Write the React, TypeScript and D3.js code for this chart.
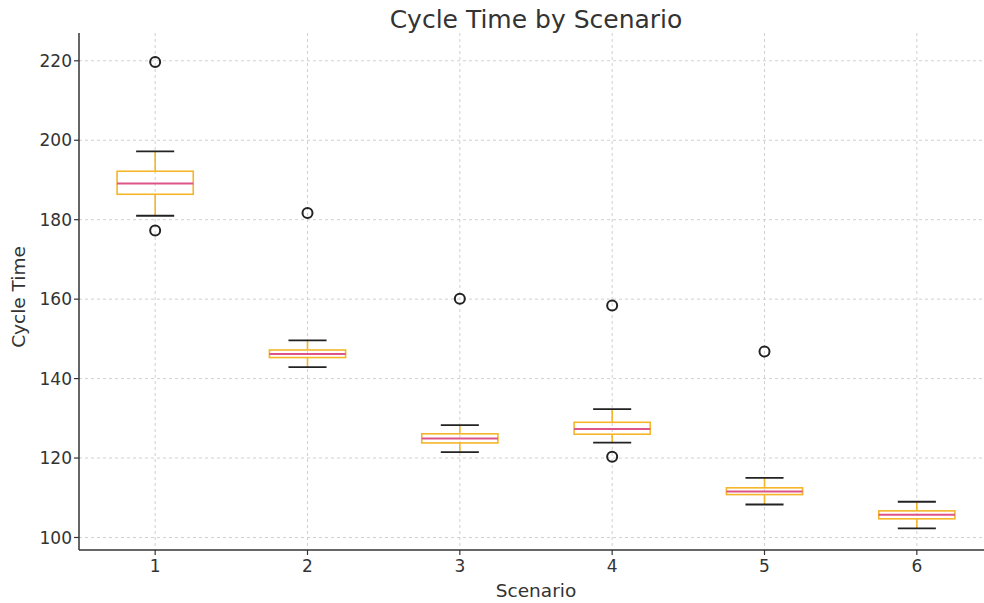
import React from "react";
import * as d3 from "d3";

const scenarios = [1, 2, 3, 4, 5, 6];
const lowerCaps = [181.0, 142.9, 121.5, 123.9, 108.3, 102.3];
const q1s = [186.4, 145.3, 123.8, 126.0, 110.8, 104.7];
const medians = [189.1, 146.2, 124.9, 127.3, 111.6, 105.7];
const q3s = [192.2, 147.2, 126.1, 129.0, 112.5, 106.7];
const upperCaps = [197.2, 149.6, 128.3, 132.3, 115.0, 109.0];
const outliers: number[][] = [[219.7, 177.3], [181.7], [160.1], [158.4, 120.3], [146.8], []];
const yTicks = [100, 120, 140, 160, 180, 200, 220];

const W = 984, H = 603;
const left = 79, right = 993, top = 33, bottom = 550;
const FONT = "DejaVu Sans, sans-serif";

export default function App() {
  const x = d3.scaleLinear().domain([0.5, 6.5]).range([left, right]);
  const y = d3.scaleLinear().domain([96.85, 227.0]).range([bottom, top]);
  const bw = x(1.25) - x(1);
  const cw = x(1.125) - x(1);
  const boxColor = "#f5b52a";
  const medColor = "#dd5588";
  return (
    <svg width={W} height={H} style={{ position: "absolute", left: 0, top: 0, background: "#fff" }}>
      <defs>
        <clipPath id="plot">
          <rect x={left} y={top} width={right - left} height={bottom - top} />
        </clipPath>
      </defs>
      {/* grid */}
      <g stroke="#cccccc" strokeWidth={0.9} strokeDasharray="3,3">
        {yTicks.map((t) => (
          <line key={"gy" + t} x1={left} x2={W} y1={y(t)} y2={y(t)} />
        ))}
        {scenarios.map((s) => (
          <line key={"gx" + s} x1={x(s)} x2={x(s)} y1={top} y2={bottom} />
        ))}
      </g>
      <g clipPath="url(#plot)">
        {scenarios.map((s, i) => (
          <g key={"b" + s}>
            <line x1={x(s)} x2={x(s)} y1={y(q3s[i])} y2={y(upperCaps[i])} stroke={boxColor} strokeWidth={1.6} />
            <line x1={x(s)} x2={x(s)} y1={y(q1s[i])} y2={y(lowerCaps[i])} stroke={boxColor} strokeWidth={1.6} />
            <line x1={x(s) - cw} x2={x(s) + cw} y1={y(upperCaps[i])} y2={y(upperCaps[i])} stroke="#222" strokeWidth={1.8} />
            <line x1={x(s) - cw} x2={x(s) + cw} y1={y(lowerCaps[i])} y2={y(lowerCaps[i])} stroke="#222" strokeWidth={1.8} />
            <rect x={x(s) - bw} y={y(q3s[i])} width={bw * 2} height={y(q1s[i]) - y(q3s[i])} fill="none" stroke={boxColor} strokeWidth={1.6} />
            <line x1={x(s) - bw} x2={x(s) + bw} y1={y(medians[i])} y2={y(medians[i])} stroke={medColor} strokeWidth={2} />
            {outliers[i].map((o, j) => (
              <circle key={j} cx={x(s)} cy={y(o)} r={5} fill="none" stroke="#222" strokeWidth={2} />
            ))}
          </g>
        ))}
      </g>
      {/* spines */}
      <line x1={left} x2={left} y1={top} y2={bottom} stroke="#333" strokeWidth={1.5} />
      <line x1={left} x2={W} y1={bottom} y2={bottom} stroke="#333" strokeWidth={1.5} />
      {/* y ticks */}
      {yTicks.map((t) => (
        <g key={"yt" + t}>
          <line x1={left - 5} x2={left} y1={y(t)} y2={y(t)} stroke="#333" strokeWidth={1.2} />
          <text x={left - 7} y={y(t)} dy="0.36em" textAnchor="end" fontFamily={FONT} fontSize={17} fill="#333">
            {t}
          </text>
        </g>
      ))}
      {scenarios.map((s) => (
        <g key={"xt" + s}>
          <line x1={x(s)} x2={x(s)} y1={bottom} y2={bottom + 5} stroke="#333" strokeWidth={1.2} />
          <text x={x(s)} y={bottom + 22} textAnchor="middle" fontFamily={FONT} fontSize={17} fill="#333">
            {s}
          </text>
        </g>
      ))}
      <text x={536} y={597} textAnchor="middle" fontFamily={FONT} fontSize={18.5} fill="#333">
        Scenario
      </text>
      <text transform={`translate(25, 297) rotate(-90)`} textAnchor="middle" fontFamily={FONT} fontSize={18.5} fill="#333">
        Cycle Time
      </text>
      <text x={536} y={28} textAnchor="middle" fontFamily={FONT} fontSize={25} fill="#333">
        Cycle Time by Scenario
      </text>
    </svg>
  );
}
